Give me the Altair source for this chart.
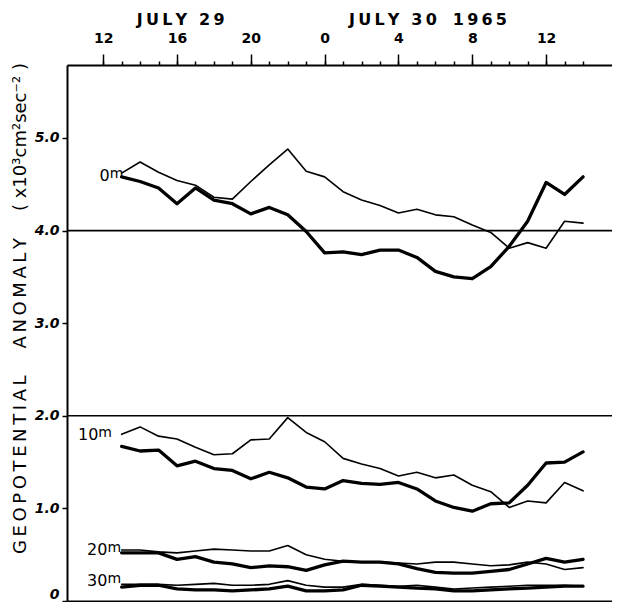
import altair as alt
import pandas as pd

FONT = "DejaVu Sans"
TS = "\u2009"   # thin space, for the wide lettering of the original
GAP = "\u2003\u2002"  # em + en space, word gaps (plain spaces collapse in SVG)

hours = [13, 14, 15, 16, 17, 18, 19, 20, 21, 22, 23, 24, 25,
         26, 27, 28, 29, 30, 31, 32, 33, 34, 35, 36, 37, 38]

m0_thin = [4.62, 4.74, 4.63, 4.54, 4.49, 4.36, 4.34, 4.53, 4.71, 4.88, 4.64, 4.58, 4.42,
           4.33, 4.27, 4.19, 4.23, 4.17, 4.15, 4.06, 3.98, 3.81, 3.87, 3.81, 4.10, 4.08]
m0_thick = [4.58, 4.53, 4.46, 4.29, 4.46, 4.33, 4.29, 4.18, 4.25, 4.17, 3.99, 3.76, 3.77,
            3.74, 3.79, 3.79, 3.71, 3.56, 3.50, 3.48, 3.61, 3.83, 4.10, 4.52, 4.39, 4.58]
m10_thin = [1.80, 1.88, 1.78, 1.75, 1.66, 1.58, 1.59, 1.74, 1.75, 1.98, 1.82, 1.72, 1.54,
            1.48, 1.43, 1.35, 1.39, 1.33, 1.36, 1.25, 1.18, 1.01, 1.08, 1.06, 1.28, 1.19]
m10_thick = [1.67, 1.62, 1.63, 1.46, 1.51, 1.43, 1.41, 1.32, 1.39, 1.33, 1.23, 1.21, 1.30,
             1.27, 1.26, 1.28, 1.21, 1.08, 1.01, 0.97, 1.05, 1.06, 1.25, 1.49, 1.50, 1.61]
m20_thin = [0.55, 0.55, 0.53, 0.52, 0.54, 0.56, 0.55, 0.54, 0.54, 0.60, 0.50, 0.45, 0.43,
            0.42, 0.42, 0.41, 0.40, 0.42, 0.42, 0.40, 0.38, 0.39, 0.42, 0.40, 0.34, 0.36]
m20_thick = [0.52, 0.52, 0.52, 0.45, 0.48, 0.42, 0.40, 0.36, 0.38, 0.37, 0.33, 0.39, 0.43,
             0.42, 0.42, 0.40, 0.35, 0.31, 0.30, 0.30, 0.32, 0.34, 0.40, 0.46, 0.42, 0.45]
m30_thin = [0.18, 0.18, 0.18, 0.17, 0.18, 0.19, 0.17, 0.17, 0.18, 0.22, 0.17, 0.15, 0.15,
            0.18, 0.17, 0.16, 0.17, 0.15, 0.13, 0.14, 0.15, 0.16, 0.17, 0.17, 0.17, 0.16]
m30_thick = [0.15, 0.17, 0.17, 0.13, 0.12, 0.12, 0.11, 0.12, 0.13, 0.16, 0.11, 0.11, 0.12,
             0.17, 0.16, 0.15, 0.14, 0.13, 0.11, 0.11, 0.12, 0.13, 0.14, 0.15, 0.16, 0.16]

major_ticks = [12, 16, 20, 24, 28, 32, 36]
minor_ticks = [12, 13, 14, 15, 16, 17, 18, 19, 20, 21, 22, 23, 24, 25,
               26, 27, 28, 29, 30, 31, 32, 33, 34, 35, 36, 37, 38]

depth_numbers = ["0", "10", "20", "30"]
depth_unit = ["m", "m", "m", "m"]
depth_label_hours = [12.35, 11.74, 12.23, 12.23]
depth_label_values = [4.59, 1.79, 0.55, 0.22]

header_parts = [["JULY 29"], ["JULY 30", "1965"]]
header_hours = [16.2, 29.6]

y_title_words = ["GEOPOTENTIAL", "ANOMALY"]
y_title_unit = "(\u00a0x10³cm²sec⁻²\u00a0)"

ref_lines = [4.0, 2.0]


def spaced(s):
    return TS.join(list(s))


y_title = GAP.join([spaced(w) for w in y_title_words] + [y_title_unit])
header_labels = ["\u2003".join(spaced(p) for p in parts) for parts in header_parts]

series = [
    ("0m thin", "thin", m0_thin), ("0m thick", "thick", m0_thick),
    ("10m thin", "thin", m10_thin), ("10m thick", "thick", m10_thick),
    ("20m thin", "thin", m20_thin), ("20m thick", "thick", m20_thick),
    ("30m thin", "thin", m30_thin), ("30m thick", "thick", m30_thick),
]
rows = []
for name, weight, vals in series:
    for h, v in zip(hours, vals):
        rows.append({"series": name, "weight": weight, "hour": h, "value": v})
df = pd.DataFrame(rows)

lab_df = pd.DataFrame({"num": depth_numbers, "unit": depth_unit,
                       "hour": depth_label_hours, "value": depth_label_values})
head_df = pd.DataFrame({"label": header_labels, "hour": header_hours})
rule_df = pd.DataFrame({"value": ref_lines})

x_scale = alt.Scale(domain=[10.04, 39.57], nice=False, zero=False)
y_scale = alt.Scale(domain=[0, 5.788], nice=False, zero=False)

lines = alt.Chart(df).mark_line(color="black", strokeJoin="round", strokeCap="round").encode(
    x=alt.X("hour:Q", scale=x_scale, axis=alt.Axis(
        orient="top", values=major_ticks, tickSize=11, tickWidth=1.5, tickColor="black",
        labelExpr="datum.value % 24", labelFont=FONT, labelFontSize=14, labelFontWeight="bold",
        labelColor="black", labelPadding=9, labelFlush=False,
        domain=True, domainWidth=2, domainColor="black", grid=False, title=None)),
    y=alt.Y("value:Q", scale=y_scale, axis=alt.Axis(
        values=[0, 1, 2, 3, 4, 5], tickSize=5, tickWidth=1.5, tickColor="black",
        labelExpr="datum.value == 0 ? '0' : format(datum.value, '.1f')",
        labelBaseline={"condition": {"test": "datum.value == 0", "value": "bottom"}, "value": "middle"},
        labelFont=FONT, labelFontSize=14, labelFontWeight="bold", labelFontStyle="italic",
        labelColor="black", labelPadding=3, labelFlush=False,
        domain=True, domainWidth=2, domainColor="black", grid=False,
        title=y_title,
        titleFont=FONT, titleFontSize=18, titleFontWeight="normal", titleColor="black",
        titleAngle=270, titleX=-47, titleY=243, titleAlign="center", titleBaseline="middle")),
    detail="series:N",
    strokeWidth=alt.StrokeWidth("weight:N", scale=alt.Scale(domain=["thin", "thick"], range=[1.6, 3.3]), legend=None),
)

num_labels = alt.Chart(lab_df).mark_text(align="right", baseline="middle", font=FONT, fontSize=16,
                                          color="black").encode(
    x=alt.X("hour:Q", scale=x_scale, axis=alt.Axis(
        orient="top", values=minor_ticks, tickSize=4, tickWidth=1.5, tickColor="black",
        labels=False, domain=False, grid=False, title=None)),
    y=alt.Y("value:Q", scale=y_scale, axis=None),
    text="num:N",
)

unit_labels = alt.Chart(lab_df).mark_text(align="left", baseline="middle", font=FONT, fontSize=14,
                                           dx=0, dy=-2, color="black").encode(
    x=alt.X("hour:Q", scale=x_scale, axis=None),
    y=alt.Y("value:Q", scale=y_scale, axis=None),
    text="unit:N",
)

header = alt.Chart(head_df).mark_text(baseline="middle", align="center", font=FONT, fontSize=16,
                                      fontWeight="bold", color="black").encode(
    x=alt.X("hour:Q", scale=x_scale, axis=alt.Axis(
        orient="bottom", ticks=False, labels=False, domain=True, domainWidth=2,
        domainColor="black", grid=False, title=None)),
    y=alt.value(-45),
    text="label:N",
)

rules = alt.Chart(rule_df).mark_rule(color="black", strokeWidth=1.6).encode(
    y=alt.Y("value:Q", scale=y_scale, axis=None),
)

chart = alt.layer(rules, lines, num_labels, unit_labels, header).resolve_axis(
    x="independent", y="independent"
).properties(
    width=545, height=536,
    padding={"left": 59, "top": 57, "right": 0, "bottom": 1},
    autosize=alt.AutoSizeParams(type="none"),
    background="white",
).configure_view(stroke=None)

chart.save("out.html", embed_options={"renderer": "svg", "actions": False})
